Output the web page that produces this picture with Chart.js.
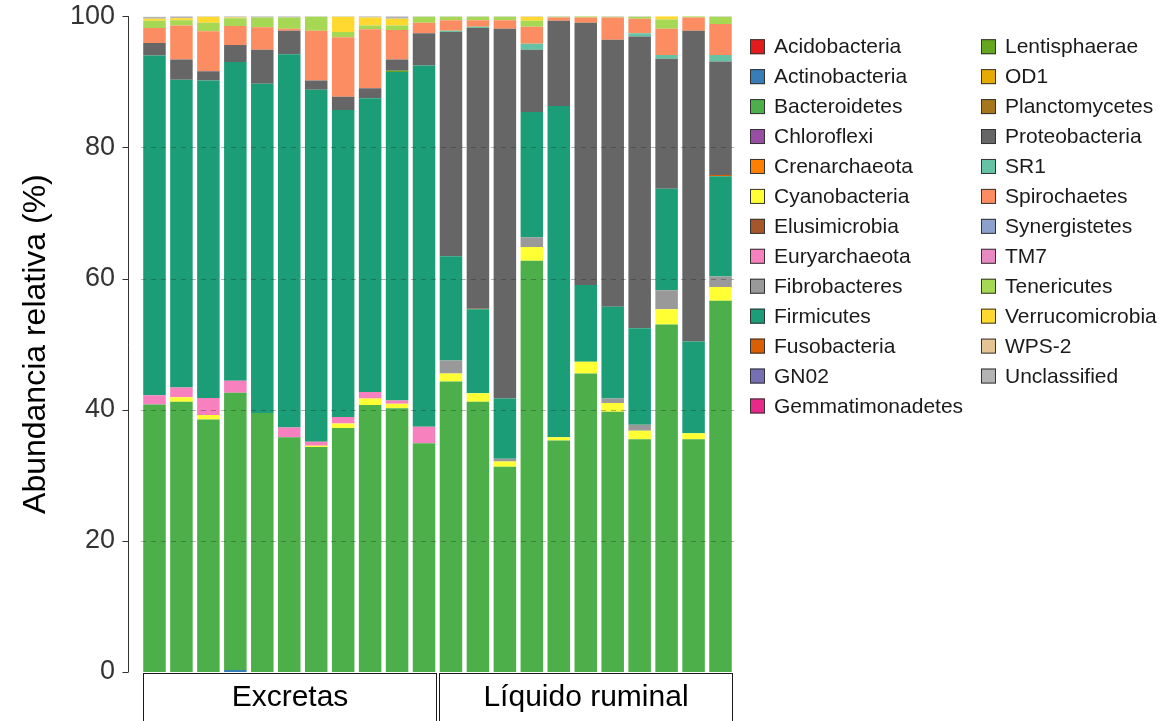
<!DOCTYPE html>
<html>
<head>
<meta charset="utf-8">
<title>Abundancia relativa por filo</title>
<script src="https://cdn.jsdelivr.net/npm/chart.js@4.4.1/dist/chart.umd.min.js"></script>
<style>
  html, body { margin: 0; padding: 0; background: #ffffff; }
  #wrap { width: 1167px; height: 721px; position: relative; overflow: hidden; }
</style>
</head>
<body>
<div id="wrap"><canvas id="chart" width="1167" height="721"></canvas></div>
<script>
// Samples: 11 faecal (Excretas) and 11 rumen-fluid (Líquido ruminal)
const samples = ['E1','E2','E3','E4','E5','E6','E7','E8','E9','E10','E11',
                 'L1','L2','L3','L4','L5','L6','L7','L8','L9','L10','L11'];
const groupNames = ['Excretas', 'Líquido ruminal'];
const groupFirst = [0, 11];
const groupLast = [10, 21];
const yTicks = [0, 20, 40, 60, 80, 100];

// Relative abundance (%) per phylum, stacked from the bottom in this order
const acidobacteria    = [0,0,0,0,0,0,0,0,0,0,0, 0,0,0,0,0,0,0,0,0,0,0];
const actinobacteria   = [0,0,0,0.3,0,0,0,0,0,0,0, 0,0,0,0,0,0,0,0,0,0,0];
const bacteroidetes    = [40.8,41.2,38.5,42.3,39.5,35.8,34.3,37.2,40.7,40.2,34.9, 44.3,41.2,31.3,62.7,35.3,45.5,39.7,35.5,53.0,35.5,56.6];
const chloroflexi      = [0,0,0,0,0,0,0,0,0,0,0, 0,0,0,0,0,0,0,0,0,0,0];
const crenarchaeota    = [0,0,0,0,0,0,0,0,0,0,0, 0,0,0,0,0,0,0,0,0,0,0];
const cyanobacteria    = [0,0.7,0.7,0,0,0,0.2,0.7,1.0,0.7,0, 1.2,1.3,0.8,2.1,0.5,1.8,1.3,1.3,2.3,0.9,2.1];
const elusimicrobia    = [0,0,0,0,0,0,0,0,0,0,0, 0,0,0,0,0,0,0,0,0,0,0];
const euryarchaeota    = [1.4,1.5,2.6,1.8,0,1.5,0.6,1.0,1.0,0.5,2.5, 0,0,0,0,0,0,0,0,0,0,0];
const fibrobacteres    = [0,0,0,0,0,0,0,0,0,0,0, 2.0,0,0.4,1.5,0,0,0.7,0.9,2.9,0,1.6];
const firmicutes       = [51.8,46.9,48.4,48.6,50.2,56.9,53.7,46.8,44.8,50.1,55.1, 15.9,12.8,9.2,19.1,50.5,11.7,14.0,14.7,15.5,14.0,15.3];
const fusobacteria     = [0,0,0,0,0,0,0,0,0,0,0, 0,0,0,0,0,0,0,0,0,0,0.2];
const gn02             = [0,0,0,0,0,0,0,0,0,0,0, 0,0,0,0,0,0,0,0,0,0,0];
const gemmatimonadetes = [0,0,0,0,0,0,0,0,0,0,0, 0,0,0,0,0,0,0,0,0,0,0];
const lentisphaerae    = [0,0,0,0,0,0,0,0,0,0.2,0, 0,0,0,0,0,0,0,0,0,0,0];
const od1              = [0,0,0,0,0,0,0,0,0,0,0, 0,0,0,0,0,0,0,0,0,0,0];
const planctomycetes   = [0,0,0,0,0,0,0,0,0,0,0, 0,0.1,0,0,0,0,0,0,0,0,0];
const proteobacteria   = [1.9,3.1,1.4,2.6,5.2,3.6,1.4,2.0,1.5,1.7,4.9, 34.2,42.8,56.4,9.5,13.0,40.0,40.7,44.5,19.8,47.4,17.3];
const sr1              = [0,0,0,0,0,0,0,0,0,0,0, 0.2,0.2,0,0.9,0,0,0,0.5,0.6,0,1.0];
const spirochaetes     = [2.3,5.2,6.1,2.9,3.4,0.3,7.6,9.1,9.0,4.5,1.6, 1.6,1.0,1.3,2.6,0.5,0.8,3.4,2.2,4.0,2.0,4.7];
const synergistetes    = [0,0,0,0,0,0,0,0,0,0,0, 0,0,0,0,0,0,0,0,0,0,0];
const tm7              = [0,0,0,0,0,0,0,0,0,0,0, 0,0,0,0,0,0,0,0,0,0,0];
const tenericutes      = [1.1,0.8,1.3,1.2,1.5,1.7,2.1,0.8,0.6,0.7,0.9, 0.5,0.5,0.5,0.9,0.1,0.2,0.1,0.3,1.4,0.2,1.1];
const verrucomicrobia  = [0.3,0.3,0.9,0.1,0,0,0,2.3,1.2,1.0,0, 0,0,0,0.6,0,0,0,0,0.5,0,0];
const wps2             = [0,0,0,0,0,0,0,0,0,0,0, 0,0,0,0,0,0,0,0,0,0,0];
const unclassified     = [0.3,0.3,0.1,0.2,0.2,0.2,0.1,0.1,0.2,0.4,0.1, 0.1,0.1,0.1,0.1,0.1,0,0.1,0.1,0,0,0.1];

const phylumNames = ['Acidobacteria','Actinobacteria','Bacteroidetes','Chloroflexi','Crenarchaeota',
  'Cyanobacteria','Elusimicrobia','Euryarchaeota','Fibrobacteres','Firmicutes','Fusobacteria','GN02',
  'Gemmatimonadetes','Lentisphaerae','OD1','Planctomycetes','Proteobacteria','SR1','Spirochaetes',
  'Synergistetes','TM7','Tenericutes','Verrucomicrobia','WPS-2','Unclassified'];
const phylumValues = [acidobacteria, actinobacteria, bacteroidetes, chloroflexi, crenarchaeota,
  cyanobacteria, elusimicrobia, euryarchaeota, fibrobacteres, firmicutes, fusobacteria, gn02,
  gemmatimonadetes, lentisphaerae, od1, planctomycetes, proteobacteria, sr1, spirochaetes,
  synergistetes, tm7, tenericutes, verrucomicrobia, wps2, unclassified];
const phylumColors = ['#E41A1C','#377EB8','#4DAF4A','#984EA3','#FF7F00','#FFFF33','#A65628','#F781BF',
  '#999999','#1B9E77','#D95F02','#7570B3','#E7298A','#66A61E','#E6AB02','#A6761D','#666666',
  '#66C2A5','#FC8D62','#8DA0CB','#E78AC3','#A6D854','#FFD92F','#E5C494','#B3B3B3'];

const FONT = '"Liberation Sans", Arial, Helvetica, sans-serif';

const datasets = phylumNames.map((name, i) => ({
  label: name,
  data: phylumValues[i],
  backgroundColor: phylumColors[i],
  borderWidth: 0,
  barPercentage: 0.835,
  categoryPercentage: 1.0
}));

// Extra drawing: dashed reference lines, offset y axis line, title, facet strips, legend
const decorations = {
  id: 'decorations',
  afterDatasetsDraw(chart) {
    const { ctx, chartArea, scales: { y } } = chart;
    ctx.save();
    ctx.strokeStyle = 'rgba(40,40,40,0.35)';
    ctx.lineWidth = 1;
    ctx.setLineDash([5, 5]);
    yTicks.filter(v => v > 0 && v < 100).forEach(v => {
      const py = Math.round(y.getPixelForValue(v)) + 0.5;
      ctx.beginPath();
      ctx.moveTo(chartArea.left, py);
      ctx.lineTo(chartArea.right, py);
      ctx.stroke();
    });
    ctx.restore();
  },
  afterDraw(chart) {
    const { ctx, chartArea, scales: { x, y } } = chart;
    ctx.save();

    // y axis line with outward ticks, set slightly apart from the panel
    const axisX = chartArea.left - 12.5;
    ctx.strokeStyle = '#333333';
    ctx.lineWidth = 1;
    ctx.beginPath();
    ctx.moveTo(axisX, y.getPixelForValue(100));
    ctx.lineTo(axisX, y.getPixelForValue(0));
    yTicks.forEach(v => {
      const py = Math.round(y.getPixelForValue(v)) + 0.5;
      ctx.moveTo(axisX, py);
      ctx.lineTo(axisX - 6, py);
    });
    ctx.stroke();

    // y axis title
    ctx.fillStyle = '#000000';
    ctx.font = '32px ' + FONT;
    ctx.textAlign = 'center';
    ctx.textBaseline = 'middle';
    ctx.translate(36, (chartArea.top + chartArea.bottom) / 2);
    ctx.rotate(-Math.PI / 2);
    ctx.fillText('Abundancia relativa (%)', 0, 0);
    ctx.setTransform(1, 0, 0, 1, 0, 0);

    // facet strips below the bars
    const slot = x.getPixelForValue(1) - x.getPixelForValue(0);
    ctx.strokeStyle = '#1a1a1a';
    ctx.font = '30px ' + FONT;
    groupNames.forEach((name, g) => {
      const x1 = Math.round(x.getPixelForValue(groupFirst[g]) - slot / 2 + 1.5) + 0.5;
      const x2 = Math.round(x.getPixelForValue(groupLast[g]) + slot / 2 - 1) - 0.5;
      const top = Math.round(chartArea.bottom) + 1.5;
      ctx.strokeRect(x1, top, x2 - x1, 60);
      ctx.fillStyle = '#000000';
      ctx.fillText(name, (x1 + x2) / 2, top + 24);
    });

    // legend in two columns
    const perCol = 13;
    const lx = chartArea.right + 16;
    const colW = 231;
    const rowH = 29.94;
    const y0 = 46.7;
    ctx.font = '21px ' + FONT;
    ctx.textAlign = 'left';
    chart.data.datasets.forEach((ds, i) => {
      const col = Math.floor(i / perCol);
      const row = i % perCol;
      const bx = lx + col * colW;
      const cy = y0 + row * rowH;
      ctx.fillStyle = ds.backgroundColor;
      ctx.fillRect(bx, cy - 7.5, 15, 15);
      ctx.strokeStyle = '#333333';
      ctx.lineWidth = 1;
      ctx.strokeRect(bx + 0.5, cy - 7, 14, 14);
      ctx.fillStyle = '#1a1a1a';
      ctx.fillText(ds.label, bx + 24, cy + 1);
    });
    ctx.restore();
  }
};

new Chart(document.getElementById('chart').getContext('2d'), {
  type: 'bar',
  data: { labels: samples, datasets },
  options: {
    responsive: false,
    animation: false,
    devicePixelRatio: 1,
    layout: { padding: { left: 0, top: 16, right: 433, bottom: 49 } },
    plugins: { legend: { display: false }, tooltip: { enabled: false } },
    scales: {
      x: { stacked: true, display: false },
      y: {
        stacked: true,
        min: 0,
        max: 100,
        afterBuildTicks(scale) { scale.ticks = yTicks.map(v => ({ value: v })); },
        ticks: { padding: 0, color: '#333333', font: { family: FONT, size: 27 } },
        grid: { display: false, drawTicks: true, tickLength: 26 },
        border: { display: false },
        afterFit(scale) { scale.width = 141; }
      }
    }
  },
  plugins: [decorations]
});
</script>
</body>
</html>
